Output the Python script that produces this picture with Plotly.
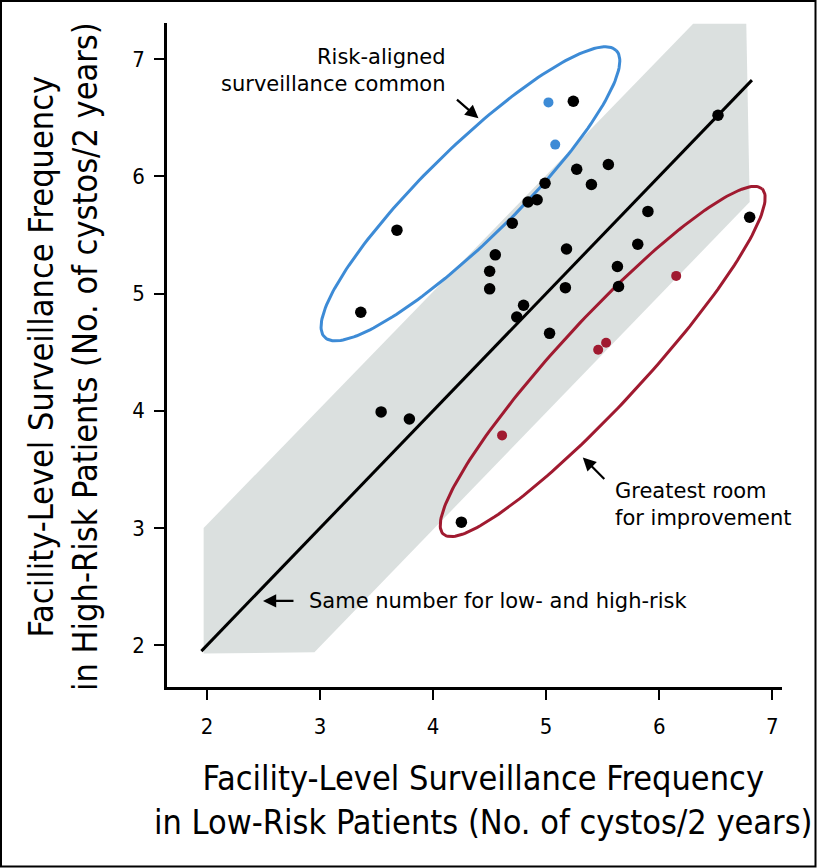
import numpy as np
import plotly.graph_objects as go

# facility-level means, low-risk (x) vs high-risk (y), cystos per 2 years
low_black = [3.36, 3.68, 3.54, 3.79, 4.25, 4.50, 4.50, 4.55, 4.70, 4.74, 4.80, 4.84, 4.92, 4.99,
             5.03, 5.17, 5.18, 5.24, 5.27, 5.40, 5.55, 5.63, 5.64, 5.81, 5.90, 6.52, 6.80]
high_black = [4.84, 5.54, 3.99, 3.93, 3.05, 5.04, 5.19, 5.33, 5.60, 4.80, 4.90, 5.78, 5.80, 5.94,
              4.66, 5.05, 5.38, 6.64, 6.06, 5.93, 6.10, 5.23, 5.06, 5.42, 5.70, 6.52, 5.65]
low_blue = [5.02, 5.08]
high_blue = [6.63, 6.27]
low_red = [4.61, 5.46, 5.53, 6.15]
high_red = [3.79, 4.52, 4.58, 5.15]

# identity line (same number for both groups)
diag = [1.95, 6.82]

# grey band outline
band_x = [1.97, 6.30, 6.77, 6.80, 2.95, 1.97]
band_y = [3.00, 7.30, 7.30, 5.78, 1.94, 1.93]

tick_vals = [2, 3, 4, 5, 6, 7]
tick_text = ["2", "3", "4", "5", "6", "7"]

BLUE = "#3d8bd6"
RED = "#a01a30"
GREY = "#dbe0df"

W, H = 817, 868
ML, MR, MT, MB = 167, 35, 23, 181
XR = [1.646, 7.086]
YR = [1.644, 7.307]
PX_X = (W - ML - MR) / (XR[1] - XR[0])
PX_Y = (H - MT - MB) / (YR[1] - YR[0])


def ellipse(cx, cy, a, b, ang, n=200):
    # a, b in screen pixels so the ring looks right on the page
    t = np.linspace(0, 2 * np.pi, n)
    th = np.radians(ang)
    dx = a * np.cos(t) * np.cos(th) - b * np.sin(t) * np.sin(th)
    dy = a * np.cos(t) * np.sin(th) + b * np.sin(t) * np.cos(th)
    return cx + dx / PX_X, cy + dy / PX_Y


def paper(px, py):
    return (px - ML) / (W - ML - MR), (H - MB - py) / (H - MT - MB)


fig = go.Figure()
fig.add_trace(go.Scatter(x=band_x, y=band_y, fill="toself", fillcolor=GREY,
                         line=dict(width=0), mode="lines", hoverinfo="skip"))
fig.add_trace(go.Scatter(x=diag, y=diag, mode="lines", line=dict(color="black", width=3)))

ex, ey = ellipse(4.33, 5.85, 204.5, 46, 44.5)
fig.add_trace(go.Scatter(x=ex, y=ey, mode="lines", line=dict(color=BLUE, width=3)))
ex, ey = ellipse(5.50, 4.42, 235, 43, 47.3)
fig.add_trace(go.Scatter(x=ex, y=ey, mode="lines", line=dict(color=RED, width=3)))

fig.add_trace(go.Scatter(x=low_black, y=high_black, mode="markers",
                         marker=dict(color="black", size=11.5)))
fig.add_trace(go.Scatter(x=low_blue, y=high_blue, mode="markers",
                         marker=dict(color=BLUE, size=10)))
fig.add_trace(go.Scatter(x=low_red, y=high_red, mode="markers",
                         marker=dict(color=RED, size=10)))

ann_font = dict(family="DejaVu Sans", size=21, color="black")
title_font = dict(family="DejaVu Sans Condensed, Liberation Sans Narrow, Arial Narrow, sans-serif",
                  size=34, color="black")

# arrows (tip in data units, tail offset in px)
for x, y, ax, ay in [(4.401, 6.494, -23, -20), (2.495, 2.378, 32, 0), (5.324, 3.602, 23, 23)]:
    fig.add_annotation(x=x, y=y, ax=ax, ay=ay, text="", showarrow=True, arrowhead=2,
                       arrowsize=1.2, arrowwidth=2.2, arrowcolor="black", standoff=0)

fig.add_annotation(x=4.131, y=6.902, text="Risk-aligned<br>surveillance common", showarrow=False,
                   xanchor="right", yanchor="middle", align="right", font=ann_font)
fig.add_annotation(x=2.884, y=2.378, text="Same number for low- and high-risk", showarrow=False,
                   xanchor="left", yanchor="middle", font=ann_font)
fig.add_annotation(x=5.590, y=3.203, text="Greatest room<br>for improvement", showarrow=False,
                   xanchor="left", yanchor="middle", align="left", font=ann_font)

# axis titles
px_, py_ = paper(483, 800)
fig.add_annotation(xref="paper", yref="paper", x=px_, y=py_, showarrow=False,
                   text="Facility-Level Surveillance Frequency<br>in Low-Risk Patients (No. of cystos/2 years)",
                   font=title_font, xanchor="center", yanchor="middle")
px_, py_ = paper(63, 357)
fig.add_annotation(xref="paper", yref="paper", x=px_, y=py_, showarrow=False, textangle=-90,
                   text="Facility-Level Surveillance Frequency<br>in High-Risk Patients (No. of cystos/2 years)",
                   font=title_font, xanchor="center", yanchor="middle")

# outer frame
x0, y0 = paper(1, 866.5)
x1, y1 = paper(815.5, 1)
fig.add_shape(type="rect", xref="paper", yref="paper", x0=x0, y0=y0, x1=x1, y1=y1,
              line=dict(color="black", width=2))

axis_common = dict(showline=True, linecolor="black", linewidth=2.5, ticks="outside",
                   ticklen=10, tickwidth=2, tickcolor="black", showgrid=False, zeroline=False,
                   tickvals=tick_vals, ticktext=tick_text,
                   tickfont=dict(family=title_font["family"], size=22, color="black"))
fig.update_xaxes(range=XR, ticklabelstandoff=8, **axis_common)
fig.update_yaxes(range=YR, ticklabelstandoff=5, **axis_common)

fig.update_layout(width=W, height=H, margin=dict(l=ML, r=MR, t=MT, b=MB, autoexpand=False),
                  plot_bgcolor="white", paper_bgcolor="white", showlegend=False)

fig.write_html("out.html", config={"displayModeBar": False},
               post_script="document.body.style.margin='0';")
